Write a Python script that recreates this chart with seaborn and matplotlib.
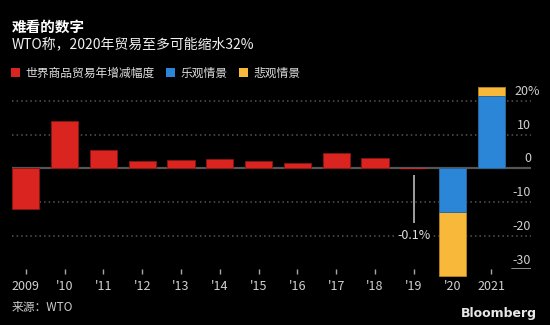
import matplotlib
matplotlib.use("Agg")
import matplotlib.pyplot as plt
import matplotlib.transforms as mtransforms
from matplotlib.patches import Patch
import pandas as pd
import seaborn as sns

# ---- data -------------------------------------------------------------
years = ["2009", "2010", "2011", "2012", "2013", "2014", "2015",
         "2016", "2017", "2018", "2019", "2020", "2021"]
tick_labels = ["2009", "'10", "'11", "'12", "'13", "'14", "'15",
               "'16", "'17", "'18", "'19", "'20", "2021"]
hist_years = years[:11]
hist_growth = [-12.1, 14.0, 5.5, 2.3, 2.6, 2.8, 2.2, 1.7, 4.5, 3.0, -0.1]
scen_years = ["2020", "2021"]
optimistic = [-12.9, 21.3]
pessimistic = [-31.9, 24.0]
y_ticks = [20, 10, 0, -10, -20, -30]
y_tick_text = ["20%", "10", "0", "-10", "-20", "-30"]

title = "难看的数字"
subtitle = "WTO称，2020年贸易至多可能缩水32%"
legend_labels = ["世界商品贸易年增减幅度", "乐观情景", "悲观情景"]
source = "来源：WTO"

RED, BLUE, YELLOW = "#DA2420", "#2B86D8", "#F8B93A"
BG = "#000000"

sns.set_theme(style="dark")
plt.rcParams["font.family"] = ["Noto Sans CJK SC", "DejaVu Sans"]
plt.rcParams["axes.unicode_minus"] = False

hist_df = pd.DataFrame({"year": hist_years, "growth": hist_growth})
scen_df = pd.DataFrame({"year": scen_years, "opt": optimistic,
                        "pes": pessimistic})

fig = plt.figure(figsize=(5.5, 3.25), dpi=100, facecolor=BG)
ax = fig.add_axes([12 / 550, 0.171, 519 / 550, 0.5705])
ax.set_facecolor(BG)

# historical growth bars
sns.barplot(data=hist_df, x="year", y="growth", order=years, color=RED,
            width=0.7, saturation=1, edgecolor="#8a1512", linewidth=0.6,
            ax=ax, zorder=3)
# pessimistic scenario first, optimistic drawn over it
sns.barplot(data=scen_df, x="year", y="pes", order=years, color=YELLOW,
            width=0.7, saturation=1, edgecolor="#b8841f", linewidth=0.6,
            ax=ax, zorder=3)
sns.barplot(data=scen_df, x="year", y="opt", order=years, color=BLUE,
            width=0.7, saturation=1, edgecolor="#1d5f9c", linewidth=0.6,
            ax=ax, zorder=4)
for p in ax.patches:
    p.set_clip_on(False)
    # hairline-thin bars get no outline so they stay nearly invisible
    if abs(p.get_height()) < 0.5:
        p.set_linewidth(0)

ax.set_xlim(-0.353, 13.02)
ax.set_ylim(-30, 25)
ax.set_xlabel("")
ax.set_ylabel("")
for s in ax.spines.values():
    s.set_visible(False)
ax.grid(False)

# dotted gridlines and solid zero line
for v in [20, 10, -10, -20]:
    ax.axhline(v, color="#555555", lw=1.1, ls=(0, (1, 2)), zorder=1)
ax.axhline(0, color="#555555", lw=1.6, zorder=2)
ax.axhline(-30, xmin=0.963, xmax=1.0, color="#9a9a9a", lw=1.3, zorder=2)

# y labels sit above their gridlines at the right edge
trans = mtransforms.blended_transform_factory(ax.transAxes, ax.transData)
up = mtransforms.ScaledTranslation(0, 4.2 / 72, fig.dpi_scale_trans)
for v, t in zip(y_ticks, y_tick_text):
    if t.endswith("%"):
        shift = mtransforms.ScaledTranslation(9 / 100, 0, fig.dpi_scale_trans)
        tr = trans + up + shift
    else:
        tr = trans + up
    ax.text(1.0, v, t, transform=tr, ha="right", va="baseline",
            color="#d0d0d0", fontsize=9)
ax.set_yticks([])

ax.set_xticks(range(len(years)))
ax.set_xticklabels(tick_labels)
ax.tick_params(axis="x", colors="#a8a8a8", length=3.5, width=1,
               direction="out", pad=4, labelsize=9, labelcolor="#d0d0d0",
               bottom=True)

# 2019 callout
i19 = years.index("2019")
ax.vlines(i19, -2.0, -16.2, color="#bbbbbb", lw=1.2, zorder=5)
ax.text(i19, -19.8, f"{hist_growth[i19]}%", ha="center", va="center",
        color="#e0e0e0", fontsize=9, zorder=6,
        bbox=dict(boxstyle="square,pad=0.1", fc=BG, ec="none"))

# titles
fig.text(12 / 550, 1 - 26.5 / 325, title, color="white", fontsize=10.5,
         fontweight="bold", ha="left", va="center")
fig.text(12 / 550, 1 - 44.5 / 325, subtitle, color="#f0f0f0",
         fontsize=10, ha="left", va="center")

handles = [Patch(facecolor=RED, edgecolor="none"),
           Patch(facecolor=BLUE, edgecolor="none"),
           Patch(facecolor=YELLOW, edgecolor="none")]
leg = fig.legend(handles, legend_labels, ncol=3, loc="center left",
                 bbox_to_anchor=(11 / 550, 1 - 73 / 325), frameon=False,
                 handlelength=0.75, handleheight=0.75, handletextpad=0.45,
                 columnspacing=1.0, borderpad=0, borderaxespad=0,
                 fontsize=8.5, labelcolor="#dddddd")

fig.text(12 / 550, 1 - 308 / 325, source, color="#cccccc", fontsize=8.5,
         ha="left", va="center")
fig.text(537 / 550, 1 - 313 / 325, "Bloomberg", color="#e8e8e8",
         fontsize=9, fontweight="bold", ha="right", va="center",
         family=["DejaVu Sans"])

fig.savefig("out.png", dpi=100, facecolor=BG)
